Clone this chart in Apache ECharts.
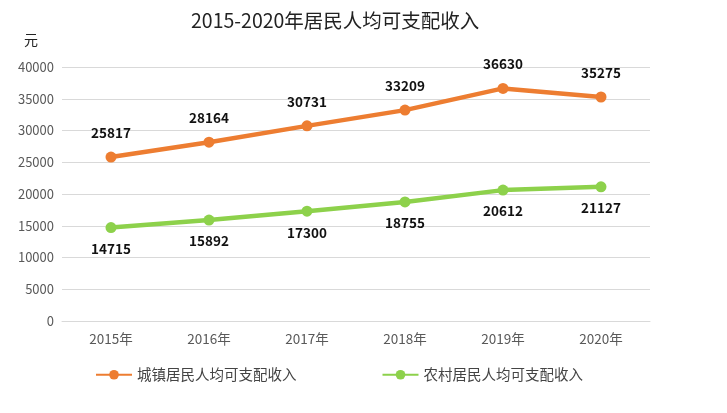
<!DOCTYPE html>
<html><head><meta charset="utf-8">
<script src="https://cdn.jsdelivr.net/npm/echarts@6/dist/echarts.min.js"></script>
<style>html,body{margin:0;padding:0;background:#fff}#c{width:727px;height:413px}</style>
</head><body><div id="c"></div>
<script>
const categories = ['2015年','2016年','2017年','2018年','2019年','2020年'];
const urban = [25817, 28164, 30731, 33209, 36630, 35275];
const rural = [14715, 15892, 17300, 18755, 20612, 21127];
const seriesNames = ['城镇居民人均可支配收入','农村居民人均可支配收入'];
const FONT = '"Noto Sans CJK SC", "Noto Sans", sans-serif';
const chart = echarts.init(document.getElementById('c'));
chart.setOption({
  backgroundColor: '#fff',
  animation: false,
  textStyle: {fontFamily: FONT},
  title: {text: '2015-2020年居民人均可支配收入', left: 186, top: 6,
    textStyle: {fontSize: 19.5, fontWeight: 'normal', color: '#222', fontFamily: FONT}},
  grid: {left: 62, right: 77, top: 67, bottom: 92},
  legend: {bottom: 26, left: 90, itemGap: 85, itemWidth: 36, itemHeight: 12,
    textStyle: {fontSize: 14.5, color: '#444', fontFamily: FONT}, data: seriesNames},
  xAxis: {type: 'category', data: categories, boundaryGap: true,
    axisLine: {lineStyle: {color: '#d9d9d9'}}, axisTick: {show: false},
    axisLabel: {color: '#595959', fontSize: 13.5, margin: 11}},
  yAxis: {type: 'value', min: 0, max: 40000, interval: 5000, name: '元',
    nameLocation: 'end', nameGap: 20, nameTextStyle: {color: '#222', fontSize: 14, align: 'right', padding: [0, 24, 0, 0]},
    axisLine: {show: false}, axisTick: {show: false},
    axisLabel: {color: '#595959', fontSize: 13, margin: 8, formatter: v => String(v)},
    splitLine: {lineStyle: {color: '#d9d9d9'}}},
  series: [
    {name: seriesNames[0], type: 'line', data: urban, symbol: 'circle', symbolSize: 11,
      lineStyle: {width: 4.5, color: '#ED7D31'}, itemStyle: {color: '#ED7D31'},
      label: {show: true, position: 'top', distance: 12, color: '#111', fontWeight: 'bold', fontSize: 13.5}},
    {name: seriesNames[1], type: 'line', data: rural, symbol: 'circle', symbolSize: 11,
      lineStyle: {width: 4.5, color: '#8DD14B'}, itemStyle: {color: '#8DD14B'},
      label: {show: true, position: 'bottom', distance: 9, color: '#111', fontWeight: 'bold', fontSize: 13.5}}
  ]
});
</script></body></html>
